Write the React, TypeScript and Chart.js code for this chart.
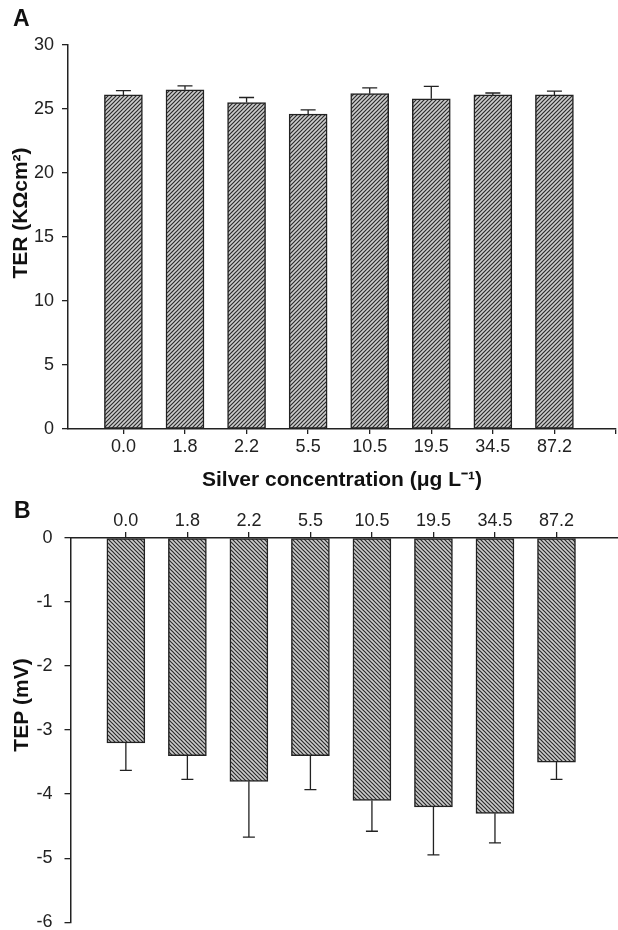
import React, { useEffect, useRef } from 'react';
import { Chart, registerables } from 'chart.js';

Chart.register(...registerables);

// ---- data ----
const categories = ['0.0', '1.8', '2.2', '5.5', '10.5', '19.5', '34.5', '87.2'];
const terValues = [26.1, 26.5, 25.5, 24.6, 26.2, 25.8, 26.1, 26.1];
const terErrors = [0.33, 0.3, 0.4, 0.33, 0.45, 0.96, 0.15, 0.3];
const tepValues = [-3.2, -3.4, -3.8, -3.4, -4.1, -4.2, -4.3, -3.5];
const tepErrors = [0.43, 0.37, 0.87, 0.53, 0.48, 0.75, 0.46, 0.27];
const terTicks = [0, 5, 10, 15, 20, 25, 30];
const tepTicks = [0, -1, -2, -3, -4, -5, -6];

const FAMILY = '"Liberation Sans", Arial, Helvetica, sans-serif';
const INK = '#222222';

function makePattern(target: HTMLCanvasElement, dir: 'up' | 'down') {
  const tile = document.createElement('canvas');
  tile.width = 4;
  tile.height = 4;
  const g = tile.getContext('2d')!;
  g.fillStyle = '#cccccc';
  g.fillRect(0, 0, 4, 4);
  g.strokeStyle = '#2b2b2b';
  g.lineWidth = 1.2;
  g.beginPath();
  if (dir === 'up') {
    g.moveTo(-1, 5); g.lineTo(5, -1);
    g.moveTo(-1, 1); g.lineTo(1, -1);
    g.moveTo(3, 5); g.lineTo(5, 3);
  } else {
    g.moveTo(-1, -1); g.lineTo(5, 5);
    g.moveTo(-1, 3); g.lineTo(1, 5);
    g.moveTo(3, -1); g.lineTo(5, 1);
  }
  g.stroke();
  return target.getContext('2d')!.createPattern(tile, 'repeat');
}

function errorBarPlugin(values: number[], errors: number[], dir: number, cap: number) {
  return {
    id: 'errorBars',
    afterDatasetsDraw(chart: any) {
      const { ctx } = chart;
      const meta = chart.getDatasetMeta(0);
      const ys = chart.scales.y;
      ctx.save();
      ctx.strokeStyle = INK;
      ctx.lineWidth = 1.3;
      meta.data.forEach((bar: any, i: number) => {
        const x = bar.x;
        const y0 = ys.getPixelForValue(values[i]);
        const y1 = ys.getPixelForValue(values[i] + dir * errors[i]);
        ctx.beginPath();
        ctx.moveTo(x, y0);
        ctx.lineTo(x, y1);
        ctx.moveTo(x - cap / 2, y1);
        ctx.lineTo(x + cap / 2, y1);
        ctx.stroke();
      });
      ctx.restore();
    },
  };
}

function textPlugin(
  panel: string,
  px: number,
  py: number,
  yTitle: string,
  tx: number,
  ty: number
) {
  return {
    id: 'panelText',
    afterDraw(chart: any) {
      const { ctx } = chart;
      ctx.save();
      ctx.fillStyle = '#111';
      ctx.font = `bold 23px ${FAMILY}`;
      ctx.textBaseline = 'alphabetic';
      ctx.textAlign = 'left';
      ctx.fillText(panel, px, py);
      ctx.translate(tx, ty);
      ctx.rotate(-Math.PI / 2);
      ctx.font = `bold 21px ${FAMILY}`;
      ctx.textAlign = 'center';
      ctx.textBaseline = 'middle';
      ctx.fillText(yTitle, 0, 0);
      ctx.restore();
    },
  };
}

const tickFont = { family: FAMILY, size: 18 };
const titleFont = { family: FAMILY, size: 21, weight: 'bold' as const };

export default function App() {
  const refA = useRef<HTMLCanvasElement>(null);
  const refB = useRef<HTMLCanvasElement>(null);

  useEffect(() => {
    const cA = refA.current!;
    const cB = refB.current!;

    const chartA = new Chart(cA, {
      type: 'bar',
      data: {
        datasets: [
          {
            data: categories.map((_, i) => ({ x: i, y: terValues[i] })),
            backgroundColor: makePattern(cA, 'up') as any,
            borderColor: INK,
            borderWidth: 1.5,
            borderSkipped: false,
            barThickness: 38,
          },
        ],
      },
      options: {
        responsive: false,
        animation: false,
        layout: { padding: { left: 0, top: 45, right: 1, bottom: 0 } },
        plugins: { legend: { display: false }, tooltip: { enabled: false } },
        scales: {
          x: {
            type: 'linear',
            offset: false,
            min: -0.9,
            max: 8,
            afterBuildTicks: (s: any) => {
              s.ticks = [...categories.map((_, i) => ({ value: i })), { value: categories.length }];
            },
            ticks: {
              callback: (v: any) => categories[v as number] ?? '',
              font: tickFont,
              color: INK,
              padding: 2,
              maxRotation: 0,
              autoSkip: false,
            },
            grid: { offset: false, drawOnChartArea: false, tickLength: 5, color: INK, lineWidth: 1.3 },
            border: { color: INK, width: 1.5 },
            title: {
              display: true,
              text: 'Silver concentration (μg L⁻¹)',
              font: titleFont,
              color: '#111',
              padding: { top: 0, bottom: 2.4 },
            },
            afterFit: (s: any) => {
              s.height = 66;
            },
          } as any,
          y: {
            min: 0,
            max: 30,
            afterBuildTicks: (s: any) => {
              s.ticks = terTicks.map((v) => ({ value: v }));
            },
            ticks: { font: tickFont, color: INK, padding: 8 },
            grid: { drawOnChartArea: false, tickLength: 6, color: INK, lineWidth: 1.3 },
            border: { color: INK, width: 1.5 },
            afterFit: (s: any) => {
              s.width = 68;
            },
          } as any,
        },
      },
      plugins: [
        errorBarPlugin(terValues, terErrors, 1, 15),
        textPlugin('A', 13, 26, 'TER (KΩcm²)', 21, 213),
      ],
    });

    const chartB = new Chart(cB, {
      type: 'bar',
      data: {
        datasets: [
          {
            data: categories.map((_, i) => ({ x: i, y: tepValues[i] })),
            backgroundColor: makePattern(cB, 'down') as any,
            borderColor: INK,
            borderWidth: 1.5,
            borderSkipped: false,
            barThickness: 38,
          },
        ],
      },
      options: {
        responsive: false,
        animation: false,
        layout: { padding: { left: 0, top: 0, right: 0, bottom: 8 } },
        plugins: { legend: { display: false }, tooltip: { enabled: false } },
        scales: {
          x: {
            type: 'linear',
            position: 'top',
            offset: false,
            min: -0.9,
            max: 8,
            afterBuildTicks: (s: any) => {
              s.ticks = categories.map((_, i) => ({ value: i }));
            },
            ticks: {
              callback: (v: any) => categories[v as number] ?? '',
              font: tickFont,
              color: INK,
              padding: 0,
              maxRotation: 0,
              autoSkip: false,
            },
            grid: { offset: false, drawOnChartArea: false, tickLength: 6, color: INK, lineWidth: 1.3 },
            border: { color: INK, width: 1.5 },
            afterFit: (s: any) => {
              s.height = 43;
            },
          } as any,
          y: {
            min: -6,
            max: 0,
            afterBuildTicks: (s: any) => {
              s.ticks = tepTicks.map((v) => ({ value: v }));
            },
            ticks: { font: tickFont, color: INK, padding: 12 },
            grid: { drawOnChartArea: false, tickLength: 6, color: INK, lineWidth: 1.3 },
            border: { color: INK, width: 1.5 },
            afterFit: (s: any) => {
              s.width = 70.5;
            },
          } as any,
        },
      },
      plugins: [
        errorBarPlugin(tepValues, tepErrors, -1, 12),
        textPlugin('B', 14, 23, 'TEP (mV)', 22, 210),
      ],
    });

    return () => {
      chartA.destroy();
      chartB.destroy();
    };
  }, []);

  return (
    <div
      style={{
        position: 'absolute',
        left: 0,
        top: 0,
        width: 618,
        height: 930,
        background: '#fff',
        overflow: 'hidden',
      }}
    >
      <canvas ref={refA} width={618} height={495} style={{ position: 'absolute', left: 0, top: 0, width: 618, height: 495 }} />
      <canvas ref={refB} width={618} height={450} style={{ position: 'absolute', left: 0, top: 495, width: 618, height: 450 }} />
    </div>
  );
}
